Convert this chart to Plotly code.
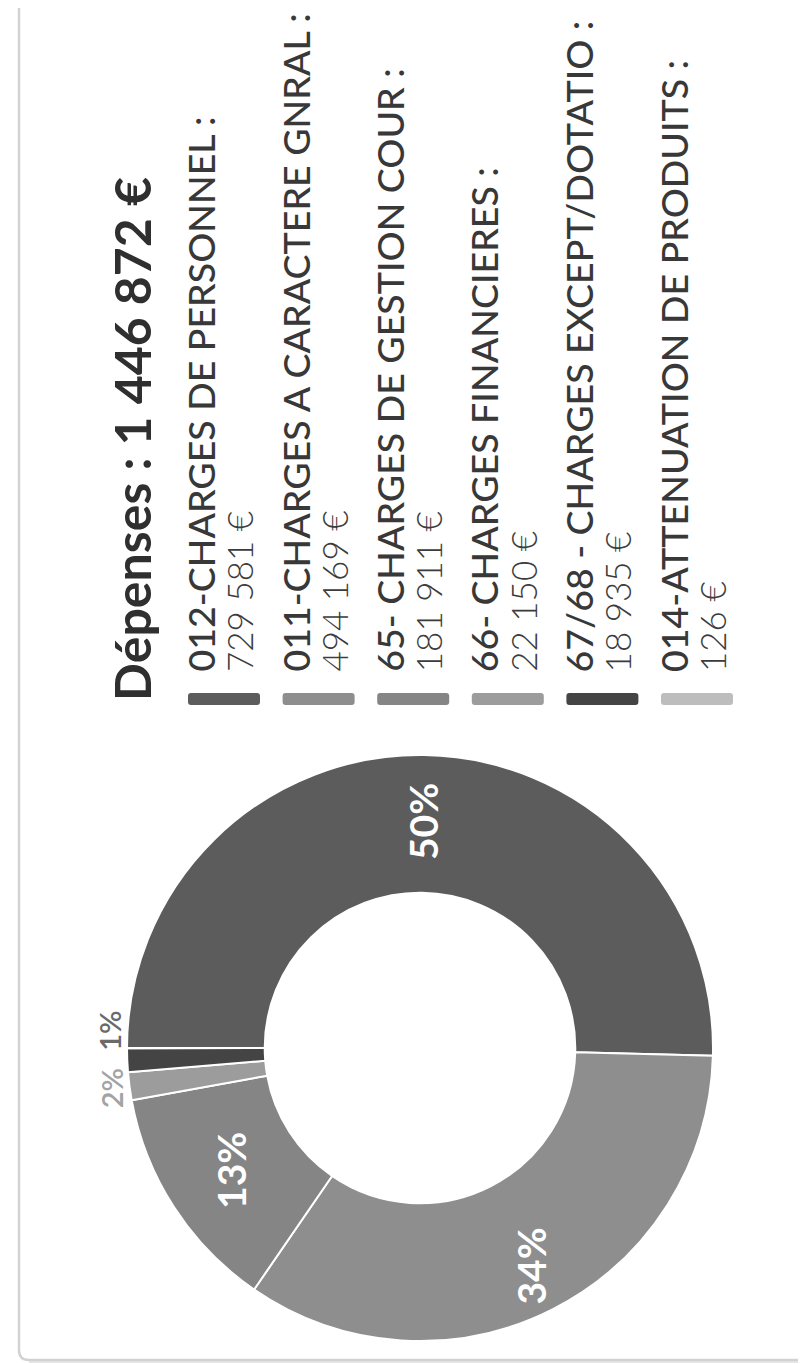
import math
import plotly.graph_objects as go

# ---------------- data ----------------
categories = [
    "012-CHARGES DE PERSONNEL :",
    "011-CHARGES A CARACTERE GNRAL :",
    "65- CHARGES DE GESTION COUR :",
    "66- CHARGES FINANCIERES :",
    "67/68 - CHARGES EXCEPT/DOTATIO :",
    "014-ATTENUATION DE PRODUITS :",
]
values = [729581, 494169, 181911, 22150, 18935, 126]
title_prefix = "Dépenses : "

# ---------------- styles ----------------
colors = ["#5c5c5c", "#8e8e8e", "#858585", "#9c9c9c", "#444444", "#bdbdbd"]
outside_text_colors = ["#555555", "#777777", "#777777", "#a3a3a3", "#6a6a6a", "#bbbbbb"]
label_radius = [226, 245, 226, 311, 311, 311]      # px from centre, per slice label

W, H = 806, 1364
CX, CY, R = 412, 1040, 293      # donut centre / outer radius in px
HOLE = 0.53
ROT = -90                        # first slice starts at 9 o'clock


def px(x):
    return x / W


def py(y):
    return 1 - y / H


def fmt_eur(v):
    return f"{v:,}".replace(",", " ") + " €"


total = sum(values)
fig = go.Figure()

fig.add_trace(go.Pie(
    values=values,
    labels=categories,
    hole=HOLE,
    sort=False,
    direction="clockwise",
    rotation=ROT,
    marker=dict(colors=colors, line=dict(color="white", width=2)),
    textinfo="none",
    hoverinfo="label+value+percent",
    showlegend=False,
    domain=dict(x=[px(CX - R), px(CX + R)], y=[py(CY + R), py(CY - R)]),
))

annotations = []
shapes = []

# ---------------- percentage labels (rotated like the whole card) ----------------
cum = 0
prev_out_y = None
for i, v in enumerate(values):
    pct = v / total * 100
    mid = math.radians(ROT + 360 * (cum + v / 2) / total)
    cum += v
    if round(pct) < 1:
        continue
    r = label_radius[i]
    x = CX + r * math.sin(mid)
    y = CY - r * math.cos(mid)
    if pct >= 5:
        annotations.append(dict(
            x=px(x), y=py(y), xref="paper", yref="paper", showarrow=False,
            text=f"{round(pct)}%", textangle=-90, xanchor="center", yanchor="middle",
            font=dict(family="Lato", size=39, color="white", weight=700)))
    else:
        if prev_out_y is not None and prev_out_y - y < 58:
            y = prev_out_y - 58
        prev_out_y = y
        annotations.append(dict(
            x=px(x), y=py(y), xref="paper", yref="paper", showarrow=False,
            text=f"{round(pct)}%", textangle=-90, xanchor="center", yanchor="middle",
            font=dict(family="Lato", size=29, color=outside_text_colors[i], weight=600)))

# ---------------- title ----------------
annotations.append(dict(
    x=px(124), y=py(694), xref="paper", yref="paper", showarrow=False,
    text=title_prefix + fmt_eur(total), textangle=-90, xanchor="center", yanchor="bottom",
    borderpad=0, font=dict(family="Lato", size=50, color="#2f2f2f", weight=700)))

# ---------------- legend (rotated) ----------------
STEP = 94.6
for k, (cat, v) in enumerate(zip(categories, values)):
    annotations.append(dict(
        x=px(192 + k * STEP), y=py(665), xref="paper", yref="paper", showarrow=False,
        text=cat, textangle=-90, xanchor="center", yanchor="bottom", borderpad=0,
        font=dict(family="Lato", size=37.5, color="#383838", weight=500)))
    annotations.append(dict(
        x=px(230.5 + k * STEP), y=py(665), xref="paper", yref="paper", showarrow=False,
        text=fmt_eur(v), textangle=-90, xanchor="center", yanchor="bottom", borderpad=0,
        font=dict(family="Lato", size=35, color="#3c3c3c", weight=300)))
    x0, x1, y0, y1, rr = 180 + k * STEP, 252 + k * STEP, 685, 697, 3
    path = (f"M {px(x0 + rr)},{py(y0)} L {px(x1 - rr)},{py(y0)} "
            f"Q {px(x1)},{py(y0)} {px(x1)},{py(y0 + rr)} L {px(x1)},{py(y1 - rr)} "
            f"Q {px(x1)},{py(y1)} {px(x1 - rr)},{py(y1)} L {px(x0 + rr)},{py(y1)} "
            f"Q {px(x0)},{py(y1)} {px(x0)},{py(y1 - rr)} L {px(x0)},{py(y0 + rr)} "
            f"Q {px(x0)},{py(y0)} {px(x0 + rr)},{py(y0)} Z")
    shapes.append(dict(type="path", path=path, xref="paper", yref="paper",
                       fillcolor=colors[k], line=dict(width=0), layer="above"))

# ---------------- card border ----------------
left, right, bottom, top, rad = 11, 804, 1352, -40, 10
card = (f"M {px(left)},{py(top)} L {px(left)},{py(bottom - rad)} "
        f"Q {px(left)},{py(bottom)} {px(left + rad)},{py(bottom)} "
        f"L {px(right - rad)},{py(bottom)} Q {px(right)},{py(bottom)} {px(right)},{py(bottom - rad)} "
        f"L {px(right)},{py(top)}")
shadow = (f"M {px(left + rad)},{py(bottom + 2)} L {px(right - rad)},{py(bottom + 2)}")
shapes.append(dict(type="path", path=shadow, xref="paper", yref="paper",
                   line=dict(color="#e6e6e6", width=2), layer="below"))
shapes.append(dict(type="path", path=card, xref="paper", yref="paper",
                   line=dict(color="#d2d2d2", width=2.5), layer="below"))

fig.update_layout(
    width=W, height=H,
    margin=dict(l=0, r=0, t=0, b=0),
    paper_bgcolor="white", plot_bgcolor="white",
    showlegend=False,
    annotations=annotations,
    shapes=shapes,
)

fig.write_html("out.html")
